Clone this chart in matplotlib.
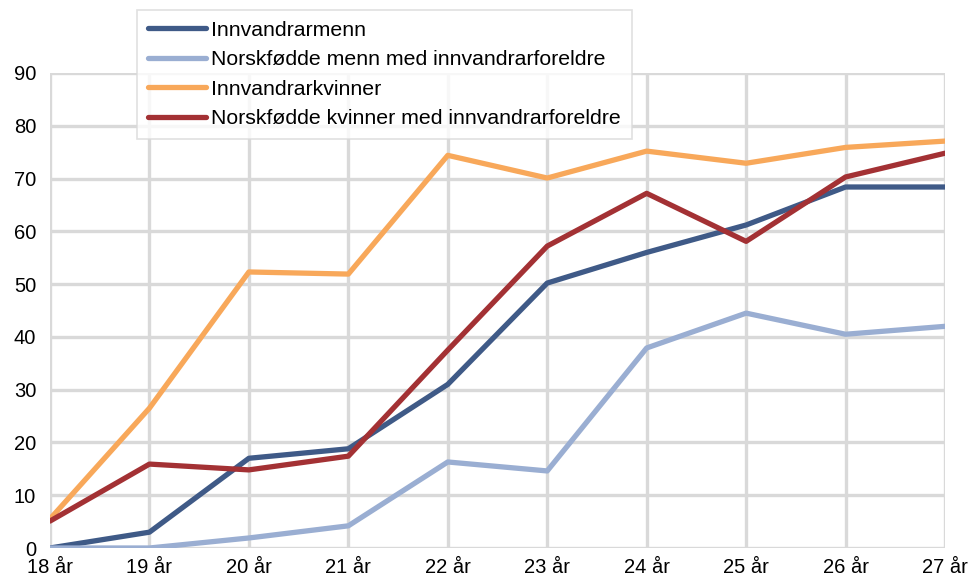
import numpy as np
import matplotlib.pyplot as plt

plt.rcParams['font.family'] = ['Liberation Sans', 'DejaVu Sans']

ages = ['18 år', '19 år', '20 år', '21 år', '22 år', '23 år', '24 år', '25 år', '26 år', '27 år']
innv_menn = [0, 3, 17, 18.8, 31, 50.2, 56, 61.2, 68.4, 68.4]
norsk_menn = [0, 0, 1.9, 4.2, 16.3, 14.6, 37.9, 44.5, 40.5, 42]
innv_kvinner = [5.5, 26.5, 52.3, 51.9, 74.4, 70.1, 75.2, 72.9, 75.9, 77.1]
norsk_kvinner = [5.1, 15.9, 14.8, 17.4, 37.5, 57.2, 67.2, 58.1, 70.3, 74.8]

labels = ['Innvandrarmenn', 'Norskfødde menn med innvandrarforeldre',
          'Innvandrarkvinner', 'Norskfødde kvinner med innvandrarforeldre']
colors = ['#3F5A87', '#9AAED2', '#F8A85A', '#A33134']

fig = plt.figure(figsize=(9.71, 5.83), dpi=100)
ax = fig.add_axes([50/971, 35/583, 895/971, 475/583])

x = np.arange(len(ages))
for vals, lab, c in zip([innv_menn, norsk_menn, innv_kvinner, norsk_kvinner], labels, colors):
    ax.plot(x, vals, color=c, lw=3.8, label=lab, solid_capstyle='round', zorder=3)

ax.set_xlim(0, len(ages) - 1)
ax.set_ylim(0, 90)
ax.set_xticks(x)
ax.set_xticklabels(ages)
ax.set_yticks(np.arange(0, 91, 10))
ax.grid(True, color='#D9D9D9', lw=2.4, zorder=0)
ax.set_axisbelow(True)
for s in ax.spines.values():
    s.set_visible(False)
ax.tick_params(length=0, labelsize=14.5, colors='black')
ax.tick_params(axis='y', pad=10)
ax.tick_params(axis='x', pad=7)

leg = ax.legend(loc='upper left', bbox_to_anchor=(137/971, 1 - 10/583),
                bbox_transform=fig.transFigure, fontsize=15.3, frameon=True,
                fancybox=False, edgecolor='#D9D9D9', handlelength=2.75,
                handletextpad=0.25, labelspacing=0.5, borderpad=0.5,
                borderaxespad=0)
leg.get_frame().set_linewidth(1.2)
leg.set_zorder(5)

fig.savefig('out.png', dpi=100)
